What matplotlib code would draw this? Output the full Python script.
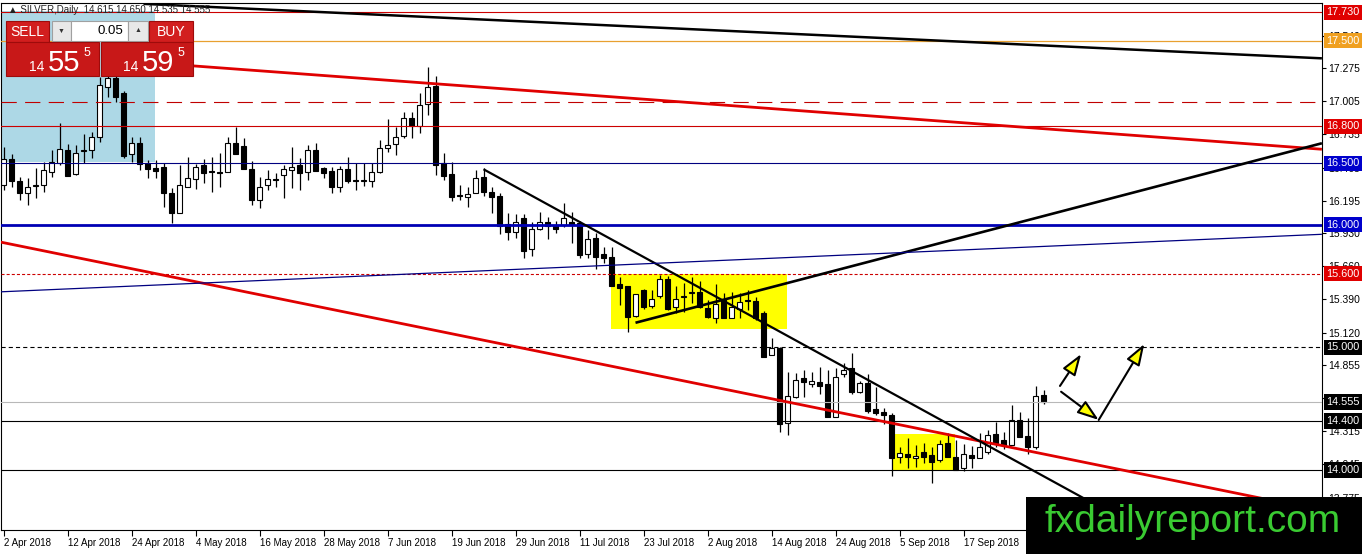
import matplotlib
matplotlib.use('Agg')
import matplotlib.pyplot as plt
from matplotlib.patches import Rectangle
import numpy as np

plt.rcParams['font.family'] = ['Liberation Sans', 'DejaVu Sans']
plt.rcParams['lines.scale_dashes'] = False

# daily OHLC of SILVER, one bar per trading day from 2 Apr 2018
opens = [
    16.323, 16.535, 16.355, 16.257, 16.314, 16.323, 16.429, 16.502, 16.608, 16.412,
    16.600, 16.608, 16.714, 17.122, 17.195, 17.073, 16.575, 16.665, 16.502, 16.461,
    16.469, 16.257, 16.094, 16.306, 16.372, 16.486, 16.437, 16.429, 16.429, 16.665,
    16.641, 16.453, 16.200, 16.323, 16.372, 16.404, 16.445, 16.486, 16.429, 16.608,
    16.461, 16.437, 16.306, 16.453, 16.363, 16.355, 16.355, 16.429, 16.624, 16.657,
    16.722, 16.869, 16.803, 16.983, 17.130, 16.502, 16.412, 16.241, 16.225, 16.257,
    16.388, 16.266, 16.233, 16.005, 15.940, 16.054, 15.801, 15.964, 16.021, 15.989,
    15.997, 16.021, 16.013, 15.760, 15.891, 15.760, 15.736, 15.516, 15.500, 15.255,
    15.467, 15.337, 15.418, 15.557, 15.329, 15.410, 15.443, 15.451, 15.321, 15.239,
    15.386, 15.239, 15.313, 15.386, 15.378, 15.280, 14.937, 14.994, 14.383, 14.595,
    14.750, 14.701, 14.717, 14.701, 14.432, 14.782, 14.831, 14.636, 14.709, 14.497,
    14.473, 14.448, 14.106, 14.130, 14.098, 14.147, 14.122, 14.081, 14.220, 14.106,
    14.016, 14.122, 14.098, 14.147, 14.293, 14.244, 14.204, 14.407, 14.277, 14.187,
    14.615]
highs = [
    16.632, 16.575, 16.388, 16.380, 16.461, 16.510, 16.608, 16.828, 16.657, 16.649,
    16.738, 16.755, 17.203, 17.244, 17.244, 17.089, 16.714, 16.714, 16.526, 16.526,
    16.502, 16.298, 16.486, 16.551, 16.494, 16.535, 16.551, 16.583, 16.714, 16.795,
    16.706, 16.518, 16.388, 16.445, 16.420, 16.486, 16.632, 16.543, 16.649, 16.665,
    16.469, 16.469, 16.478, 16.551, 16.502, 16.502, 16.502, 16.689, 16.861, 16.795,
    16.918, 16.918, 17.073, 17.284, 17.211, 16.583, 16.510, 16.323, 16.306, 16.445,
    16.461, 16.306, 16.257, 16.094, 16.086, 16.086, 16.021, 16.103, 16.062, 16.029,
    16.176, 16.103, 16.029, 15.956, 15.932, 15.817, 15.817, 15.573, 15.500, 15.435,
    15.475, 15.467, 15.589, 15.581, 15.500, 15.524, 15.573, 15.540, 15.386, 15.516,
    15.443, 15.451, 15.443, 15.467, 15.410, 15.296, 15.076, 15.002, 14.799, 14.791,
    14.815, 14.799, 14.840, 14.815, 14.832, 14.872, 14.954, 14.725, 14.782, 14.677,
    14.505, 14.465, 14.187, 14.261, 14.204, 14.220, 14.187, 14.244, 14.302, 14.244,
    14.212, 14.196, 14.302, 14.326, 14.391, 14.310, 14.530, 14.473, 14.424, 14.685,
    14.650]
lows = [
    16.282, 16.306, 16.200, 16.160, 16.216, 16.266, 16.388, 16.486, 16.396, 16.404,
    16.502, 16.543, 16.673, 17.040, 17.000, 16.543, 16.510, 16.445, 16.380, 16.380,
    16.143, 16.013, 16.094, 16.306, 16.290, 16.339, 16.266, 16.306, 16.429, 16.575,
    16.453, 16.160, 16.135, 16.282, 16.306, 16.216, 16.298, 16.282, 16.363, 16.437,
    16.380, 16.257, 16.266, 16.339, 16.282, 16.314, 16.306, 16.420, 16.592, 16.567,
    16.706, 16.706, 16.747, 16.893, 16.404, 16.363, 16.192, 16.200, 16.143, 16.257,
    16.233, 16.094, 15.923, 15.874, 15.891, 15.728, 15.744, 15.956, 15.883, 15.932,
    15.981, 15.850, 15.728, 15.728, 15.638, 15.687, 15.500, 15.345, 15.125, 15.247,
    15.313, 15.321, 15.402, 15.304, 15.280, 15.288, 15.361, 15.321, 15.239, 15.198,
    15.239, 15.239, 15.239, 15.304, 15.223, 14.921, 14.937, 14.310, 14.285, 14.587,
    14.595, 14.677, 14.619, 14.432, 14.432, 14.758, 14.619, 14.628, 14.465, 14.448,
    14.375, 13.951, 14.057, 14.016, 14.024, 14.057, 13.894, 14.065, 14.106, 14.000,
    13.992, 14.016, 14.098, 14.130, 14.187, 14.171, 14.204, 14.269, 14.130, 14.171,
    14.535]
closes = [
    16.535, 16.355, 16.257, 16.306, 16.323, 16.445, 16.510, 16.616, 16.396, 16.583,
    16.608, 16.714, 17.138, 17.195, 17.040, 16.559, 16.665, 16.494, 16.453, 16.437,
    16.257, 16.094, 16.323, 16.380, 16.469, 16.420, 16.429, 16.420, 16.665, 16.575,
    16.453, 16.200, 16.306, 16.372, 16.363, 16.453, 16.469, 16.420, 16.608, 16.437,
    16.420, 16.306, 16.453, 16.355, 16.355, 16.363, 16.429, 16.624, 16.649, 16.714,
    16.869, 16.803, 16.975, 17.122, 16.486, 16.396, 16.225, 16.233, 16.249, 16.380,
    16.266, 16.225, 15.989, 15.940, 16.021, 15.785, 15.964, 16.021, 15.989, 15.964,
    16.054, 15.997, 15.752, 15.883, 15.736, 15.728, 15.500, 15.483, 15.247, 15.435,
    15.329, 15.394, 15.557, 15.313, 15.394, 15.418, 15.451, 15.329, 15.247, 15.353,
    15.239, 15.329, 15.369, 15.378, 15.239, 14.921, 14.994, 14.375, 14.603, 14.733,
    14.717, 14.725, 14.685, 14.432, 14.758, 14.815, 14.636, 14.709, 14.481, 14.465,
    14.448, 14.098, 14.138, 14.106, 14.114, 14.106, 14.065, 14.212, 14.106, 14.000,
    14.130, 14.098, 14.187, 14.285, 14.220, 14.204, 14.407, 14.269, 14.187, 14.603,
    14.555]

date_labels = ['2 Apr 2018', '12 Apr 2018', '24 Apr 2018', '4 May 2018', '16 May 2018',
               '28 May 2018', '7 Jun 2018', '19 Jun 2018', '29 Jun 2018', '11 Jul 2018',
               '23 Jul 2018', '2 Aug 2018', '14 Aug 2018', '24 Aug 2018', '5 Sep 2018',
               '17 Sep 2018']
price_ticks = [17.540, 17.275, 17.005, 16.735, 16.465, 16.195, 15.930, 15.660,
               15.390, 15.120, 14.855, 14.585, 14.315, 14.045, 13.775]

# horizontal levels drawn on the chart
levels = [17.730, 17.500, 17.000, 16.800, 16.500, 16.000, 15.600, 15.000, 14.555, 14.400, 14.000]
level_boxed = [True, True, False, True, True, True, True, True, True, True, True]

# trend lines: (bar, price) -> (bar, price)
trend_lines = [
    ((17.5, 17.799), (164.8, 17.355)),
    ((18.0, 17.321), (164.8, 16.614)),
    ((-0.4, 15.858), (160.0, 13.733)),
    ((60.0, 16.451), (135.0, 13.771)),
    ((79.0, 15.200), (164.8, 16.663)),
    ((-0.4, 15.452), (164.8, 15.921)),
]
# zones: (bar0, bar1, price0, price1)
blue_zone = (-0.4, 18.94, 16.51, 17.74)
yellow_zones = [(75.9, 97.9, 15.149, 15.600), (111.2, 118.9, 14.000, 14.293)]
# projected move arrows
arrows = [
    ((132.06, 14.685), (134.7, 14.945)),
    ((132.2, 14.638), (136.9, 14.408)),
    ((136.9, 14.408), (142.6, 15.027)),
]

W, H = 1362, 554
fig = plt.figure(figsize=(W / 100, H / 100), dpi=100)
ax = fig.add_axes([1 / W, 24 / H, 1320.7 / W, 527 / H])
ax.set_xlim(-0.3125, 164.775)
ax.set_ylim(13.511, 17.806)

# zones
ax.add_patch(Rectangle((blue_zone[0], blue_zone[2]), blue_zone[1] - blue_zone[0],
                       blue_zone[3] - blue_zone[2], fc='#ADD8E6', ec='none', zorder=0.5))
for b0, b1, p0, p1 in yellow_zones:
    ax.add_patch(Rectangle((b0, p0), b1 - b0, p1 - p0, fc='#FFFF00', ec='none', zorder=0.6))

# candles
o = np.array(opens); h = np.array(highs); l = np.array(lows); c = np.array(closes)
x = np.arange(len(o))
up = c >= o
ax.vlines(x, l, h, color='black', lw=0.9, zorder=2)
bot = np.minimum(o, c)
ht = np.maximum(np.abs(c - o), 0.004)
ax.bar(x[up], ht[up], bottom=bot[up], width=0.62, color='white', edgecolor='black',
       linewidth=0.8, zorder=2.1)
ax.bar(x[~up], ht[~up], bottom=bot[~up], width=0.62, color='black', edgecolor='black',
       linewidth=0.8, zorder=2.1)

# horizontal levels
level_styles = [
    dict(color='#CC0000', lw=0.8, ls='-'),
    dict(color='#E8A030', lw=0.9, ls='-'),
    dict(color='#C00000', lw=0.8, ls=(0, (11, 6))),
    dict(color='#CC0000', lw=0.8, ls='-'),
    dict(color='#000080', lw=0.8, ls='-'),
    dict(color='#0000B4', lw=2.0, ls='-'),
    dict(color='#CC0000', lw=0.8, ls=(0, (2.2, 1.5))),
    dict(color='black', lw=0.8, ls=(0, (3, 2.2))),
    dict(color='#B8B8B8', lw=0.8, ls='-'),
    dict(color='black', lw=0.8, ls='-'),
    dict(color='black', lw=0.8, ls='-'),
]
box_colors = ['#E00000', '#F0A020', None, '#E00000', '#0000CC', '#0000CC', '#E00000',
              'black', 'black', 'black', 'black']
for p, boxed, st, bc in zip(levels, level_boxed, level_styles, box_colors):
    ax.axhline(p, zorder=3, **st)
    if boxed:
        ax.text(1.0035, p, f'{p:.3f}', transform=ax.get_yaxis_transform(), ha='left',
                va='center', fontsize=7.8, color='white', clip_on=False, zorder=10,
                bbox=dict(boxstyle='square,pad=0.25', fc=bc, ec='none'))

# trend lines
trend_styles = [
    dict(color='black', lw=1.8),
    dict(color='#E00000', lw=2.0),
    dict(color='#E00000', lw=2.0),
    dict(color='black', lw=1.6),
    dict(color='black', lw=1.9),
    dict(color='#000080', lw=0.9),
]
for (p0, p1), st in zip(trend_lines, trend_styles):
    ax.plot([p0[0], p1[0]], [p0[1], p1[1]], zorder=3, solid_capstyle='butt', **st)

for start, end in arrows:
    ax.annotate('', xy=end, xytext=start, zorder=4,
                arrowprops=dict(arrowstyle='-|>,head_length=1.3,head_width=0.45',
                                fc='#FFFF00', ec='black', lw=1.5, mutation_scale=10,
                                shrinkA=0, shrinkB=0))

# axes
for s in ax.spines.values():
    s.set_color('black')
    s.set_linewidth(0.8)
ax.yaxis.tick_right()
ax.set_yticks(price_ticks, [f'{v:.3f}' for v in price_ticks])
ax.tick_params(axis='y', direction='out', length=3, width=0.8, labelsize=7.5, pad=2)
ax.set_xticks(np.arange(len(date_labels)) * 8, date_labels)
for t in ax.get_xticklabels():
    t.set_horizontalalignment('left')
ax.tick_params(axis='x', direction='out', length=4, width=0.8, labelsize=7, pad=2)


def fig_rect(x0, y0, x1, y1, **kw):
    fig.add_artist(Rectangle((x0 / W, 1 - y1 / H), (x1 - x0) / W, (y1 - y0) / H,
                             transform=fig.transFigure, **kw))


def fig_txt(xp, yp, s, **kw):
    fig.text(xp / W, 1 - yp / H, s, **kw)


# title
fig_txt(8, 10, '\u25b2 SILVER,Daily  14.615 14.650 14.535 14.555', fontsize=7,
        color='#222222', va='center', ha='left', zorder=5)

# one-click trading panel
red = '#D21E1E'
narrow = ['Liberation Sans Narrow', 'Liberation Sans', 'DejaVu Sans']
fig_rect(6, 21, 49, 42, fc=red, ec='#9E0B0B', lw=0.8, zorder=6)
fig_txt(27.5, 31.5, 'SELL', color='white', fontsize=10, family=narrow, ha='center', va='center', zorder=7)
fig_rect(52, 21, 71, 41, fc='#E8E8E8', ec='#A0A0A0', lw=0.8, zorder=6)
fig_txt(61.5, 31, '\u25bc', color='#333333', fontsize=5, ha='center', va='center', zorder=7)
fig_rect(71, 21, 128, 41, fc='white', ec='#A0A0A0', lw=0.8, zorder=6)
fig_txt(123, 31, '0.05', color='black', fontsize=9.5, ha='right', va='center', zorder=7)
fig_rect(128, 21, 148, 41, fc='#E8E8E8', ec='#A0A0A0', lw=0.8, zorder=6)
fig_txt(138, 31, '\u25b2', color='#333333', fontsize=5, ha='center', va='center', zorder=7)
fig_rect(149, 21, 193, 42, fc=red, ec='#9E0B0B', lw=0.8, zorder=6)
fig_txt(171, 31.5, 'BUY', color='white', fontsize=10, family=narrow, ha='center', va='center', zorder=7)
fig_rect(6, 42, 99, 76, fc='#C81818', ec='#9E0B0B', lw=0.8, zorder=6)
fig_rect(101, 42, 193, 76, fc='#C81818', ec='#9E0B0B', lw=0.8, zorder=6)
for cx, small, big, sup in [(0, '14', '55', '5'), (94, '14', '59', '5')]:
    fig_txt(37 + cx, 67, small, color='white', fontsize=10, ha='center', va='center', zorder=7)
    fig_txt(64 + cx, 71, big, color='white', fontsize=21, family=narrow, ha='center',
            va='baseline', zorder=7)
    fig_txt(86.5 + cx, 53, sup, color='white', fontsize=9, ha='center', va='center', zorder=7)

# watermark
fig_rect(1026, 497, W, H, fc='black', ec='none', zorder=8)
fig_txt(1193, 532, 'fxdailyreport.com', color='#3ACB32', fontsize=28, ha='center',
        va='baseline', zorder=9)

fig.savefig('out.png', dpi=100)
